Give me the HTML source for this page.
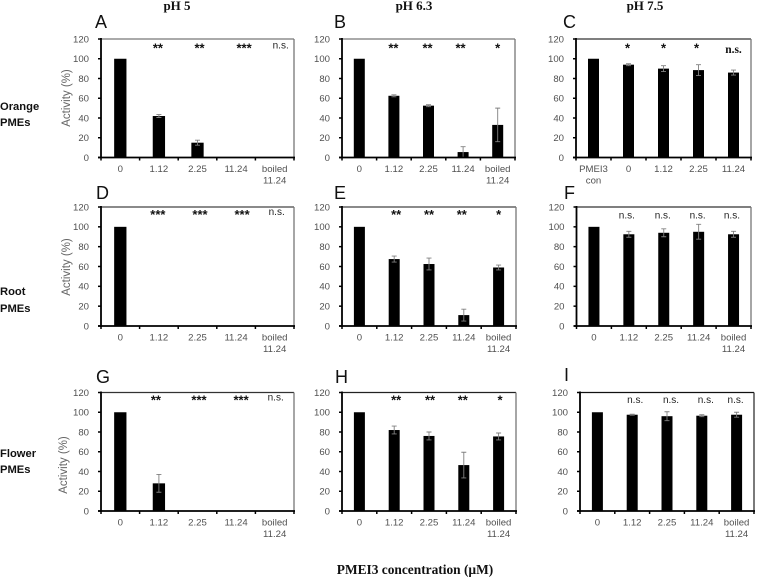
<!DOCTYPE html>
<html lang="en">
<head>
<meta charset="utf-8">
<title>PMEI3 inhibition of PME activity</title>
<style>
html,body{margin:0;padding:0;background:#fff;width:765px;height:578px;overflow:hidden}
svg{display:block;position:absolute;left:0;top:0}
text{font-family:"Liberation Sans",sans-serif}
.head{font-family:"Liberation Serif",serif;font-weight:bold;font-size:13px;fill:#111;text-anchor:middle}
.row{font-weight:bold;font-size:11.2px;fill:#111}
.letter{font-size:18px;fill:#111}
.tick{font-size:9.6px;fill:#505050}
.ytitle{font-size:11.5px;fill:#666;text-anchor:middle}
.sig{font-size:10px;fill:#222;text-anchor:middle}
.stars{font-size:13px;font-weight:bold;fill:#111;text-anchor:middle}
.bold-ns{font-family:"Liberation Serif",serif;font-weight:bold;font-size:11.5px;fill:#111;text-anchor:middle}
</style>
</head>
<body>
<svg id="fig" width="765" height="578" viewBox="0 0 765 578" xmlns="http://www.w3.org/2000/svg">
  <text class="head" x="177" y="10">pH 5</text>
  <text class="head" x="414" y="10">pH 6.3</text>
  <text class="head" x="645" y="10">pH 7.5</text>

  <text class="row" x="0" y="110">Orange</text>
  <text class="row" x="0" y="126">PMEs</text>
  <text class="row" x="0" y="295">Root</text>
  <text class="row" x="0" y="312">PMEs</text>
  <text class="row" x="0" y="457">Flower</text>
  <text class="row" x="0" y="473">PMEs</text>

  <text class="ytitle" transform="translate(70,98) rotate(-90)">Activity (%)</text>
  <text class="ytitle" transform="translate(70,267) rotate(-90)">Activity (%)</text>
  <text class="ytitle" transform="translate(67,465) rotate(-90)">Activity (%)</text>

  <text class="head" x="415" y="574" style="font-size:13.4px">PMEI3 concentration (µM)</text>
</svg>
<script>
// ---- chart data ----
const yTickLabels = [0, 20, 40, 60, 80, 100, 120];
const categoriesStandard = ['0', '1.12', '2.25', '11.24', 'boiled|11.24'];
const categoriesControl = ['PMEI3|con', '0', '1.12', '2.25', '11.24'];

const valuesA = [100, 42, 15, 0, 0];
const errorsA = [0, 1.5, 2.5, 0, 0];
const sigA = ['', '**', '**', '***', 'n.s.'];

const valuesB = [100, 62.5, 52.5, 5.5, 33];
const errorsB = [0, 1, 1, 5.5, 17];
const sigB = ['', '**', '**', '**', '*'];

const valuesC = [100, 94, 90, 88.5, 86];
const errorsC = [0, 1, 3, 5.5, 2.5];
const sigC = ['', '*', '*', '*', 'n.s.'];

const valuesD = [100, 0, 0, 0, 0];
const errorsD = [0, 0, 0, 0, 0];
const sigD = ['', '***', '***', '***', 'n.s.'];

const valuesE = [100, 67.5, 62.5, 11, 59];
const errorsE = [0, 3, 6, 6, 2.5];
const sigE = ['', '**', '**', '**', '*'];

const valuesF = [100, 92.5, 94, 95, 92.5];
const errorsF = [0, 3, 4, 7.5, 3];
const sigF = ['', 'n.s.', 'n.s.', 'n.s.', 'n.s.'];

const valuesG = [100, 28, 0, 0, 0];
const errorsG = [0, 9, 0, 0, 0];
const sigG = ['', '**', '***', '***', 'n.s.'];

const valuesH = [100, 82, 76, 46.5, 75.5];
const errorsH = [0, 4, 4, 13, 3.5];
const sigH = ['', '**', '**', '**', '*'];

const valuesI = [100, 97.5, 96, 96.5, 97.5];
const errorsI = [0, 0.5, 4.5, 1, 2.5];
const sigI = ['', 'n.s.', 'n.s.', 'n.s.', 'n.s.'];

// ---- panel layout (geometry only; label nudges are in sd) ----
const panels = [
  {id:'A', v:valuesA, e:errorsA, s:sigA, c:categoriesStandard, l:101, r:294, t:39, b:157.5, lx:95, ly:28, sy:46, barW:12.3, top:'#777', right:'#777', sd:[0,-1,2,8,6]},
  {id:'B', v:valuesB, e:errorsB, s:sigB, c:categoriesStandard, l:342, r:515, t:39, b:157.5, lx:334, ly:28, sy:46, barW:11, top:'#777', right:'#777', sd:[0,-0.5,-1,-2.6,0]},
  {id:'C', v:valuesC, e:errorsC, s:sigC, c:categoriesControl, l:576, r:751, t:39, b:157.5, lx:563, ly:28, sy:46, barW:11, top:'#333', right:'#777', sd:[0,-1,0,-2,0], boldNs:true},
  {id:'D', v:valuesD, e:errorsD, s:sigD, c:categoriesStandard, l:101, r:294, t:207, b:326, lx:96, ly:199, sy:212.7, barW:12.3, top:'#444', right:'#777', sd:[0,-1,2.5,6,2]},
  {id:'E', v:valuesE, e:errorsE, s:sigE, c:categoriesStandard, l:342, r:516, t:207, b:326, lx:334, ly:199, sy:212.7, barW:11, top:'#444', right:'#777', sd:[0,2,0,-2,0]},
  {id:'F', v:valuesF, e:errorsF, s:sigF, c:categoriesStandard, l:576.5, r:751, t:207, b:326, lx:564, ly:199, sy:216, barW:11, top:'#333', right:'#777', sd:[0,-2,-1,-1,-1.6]},
  {id:'G', v:valuesG, e:errorsG, s:sigG, c:categoriesStandard, l:101, r:294, t:392.5, b:511, lx:96, ly:383, sy:398, barW:12.3, top:'#333', right:'#777', sd:[0,-3,1.5,5,1]},
  {id:'H', v:valuesH, e:errorsH, s:sigH, c:categoriesStandard, l:342, r:516, t:392.5, b:511, lx:335, ly:383, sy:398, barW:11, top:'#222', right:'#777', sd:[0,2,1,-1,1.4]},
  {id:'I', v:valuesI, e:errorsI, s:sigI, c:categoriesStandard, l:580, r:754, t:392.5, b:511, lx:564, ly:381, sy:400.6, barW:11, top:'#111', right:'#333', sd:[0,3,4,4,-1]}
];

const svg = document.getElementById('fig');
const NS = 'http://www.w3.org/2000/svg';
function make(tag, attrs, text) {
  const n = document.createElementNS(NS, tag);
  for (const k in attrs) n.setAttribute(k, attrs[k]);
  if (text !== undefined) n.textContent = text;
  svg.appendChild(n);
  return n;
}

panels.forEach(function (p) {
  const key = p.id.toLowerCase();
  const yScale = function (val) { return p.b - (val / 120) * (p.b - p.t); };
  const band = (p.r - p.l) / p.c.length;
  const xScale = function (i) { return p.l + band * (i + 0.5); };
  let el;

  el = make('text', {class:'letter', x:p.lx, y:p.ly}, p.id);
  
  

  // frame (top + right)
  el = make('line', {x1:p.l, y1:p.t, x2:p.r, y2:p.t, stroke:p.top, 'stroke-width':1.2});
  
  
  el = make('line', {x1:p.r, y1:p.t, x2:p.r, y2:p.b, stroke:p.right, 'stroke-width':1.3});
  
  

  // bars and error bars
  p.v.forEach(function (val, i) {
    const cx = xScale(i);
    if (val > 0) {
      const bar = make('rect', {x:cx - p.barW / 2, y:yScale(val), width:p.barW, height:p.b - yScale(val), fill:'#000'});
      
      
    }
    const err = p.e[i];
    if (err > 0) {
      const hi = yScale(val + err);
      const lo = yScale(Math.max(val - err, 0));
      const whisker = make('path', {
        d:'M' + cx + ' ' + lo + 'V' + hi + 'M' + (cx - 2.5) + ' ' + hi + 'H' + (cx + 2.5) + 'M' + (cx - 2.5) + ' ' + lo + 'H' + (cx + 2.5),
        stroke:'#808080', 'stroke-width':0.9, fill:'none'
      });
      
      
    }
  });

  // y axis
  el = make('line', {x1:p.l, y1:p.t - 1, x2:p.l, y2:p.b + 1, stroke:'#000', 'stroke-width':1.8});
  
  
  yTickLabels.forEach(function (tick) {
    const mark = make('line', {x1:p.l - 3, y1:yScale(tick), x2:p.l, y2:yScale(tick), stroke:'#000', 'stroke-width':1.5});
    
    
    const label = make('text', {class:'tick', x:p.l - 12, y:yScale(tick) + 3.4, 'text-anchor':'end'}, String(tick));
    
    
  });

  // x axis
  el = make('line', {x1:p.l - 3, y1:p.b, x2:p.r + 1, y2:p.b, stroke:'#000', 'stroke-width':1.8});
  
  
  for (let i = 0; i <= p.c.length; i++) {
    const x = p.l + band * i;
    const mark = make('line', {x1:x, y1:p.b, x2:x, y2:p.b + 3, stroke:'#000', 'stroke-width':1.5});
    
    
  }
  p.c.forEach(function (cat, i) {
    cat.split('|').forEach(function (line, j) {
      const label = make('text', {class:'tick', x:xScale(i), y:p.b + 14.5 + j * 11.5, 'text-anchor':'middle'}, line);
      
      
    });
  });

  // significance labels
  p.s.forEach(function (txt, i) {
    if (!txt) return;
    const isStar = txt.indexOf('*') === 0;
    const isBoldNs = p.boldNs && !isStar;
    const cls = isStar ? 'stars' : (isBoldNs ? 'bold-ns' : 'sig');
    const y = isStar ? p.sy + 6.5 : (isBoldNs ? p.sy + 7 : p.sy + 2.5);
    const label = make('text', {class:cls, x:xScale(i) + p.sd[i], y:y}, txt);
    
    
  });
});
</script>
</body>
</html>
